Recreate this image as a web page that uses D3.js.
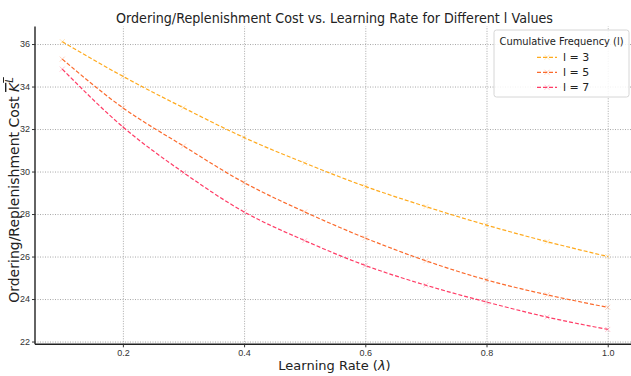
<!DOCTYPE html>
<html>
<head>
<meta charset="utf-8">
<script src="https://cdn.jsdelivr.net/npm/d3@7"></script>
<style>
  body { margin: 0; background: #fff; }
  svg { display: block; font-family: "DejaVu Sans", sans-serif; }
  .grid line { stroke: #a8a8a8; stroke-dasharray: 1 1.5; stroke-width: 1; }
  .grid path { display: none; }
  .axis text { font-size: 9px; fill: #333; }
  .axis line { stroke: #333; }
  .axis path { stroke: #222; stroke-width: 1.4; }
  .line { fill: none; stroke-width: 1.2; stroke-dasharray: 4 2; }
</style>
</head>
<body>
<div data-output></div>
<script>
// values
const lambdas = [0.1, 0.2, 0.3, 0.4, 0.5, 0.6, 0.7, 0.8, 0.9, 1.0];
const costL3 = [36.11, 34.48, 33.0, 31.6, 30.4, 29.3, 28.35, 27.48, 26.7, 26.0];
const costL5 = [35.29, 33.0, 31.2, 29.48, 28.1, 26.87, 25.8, 24.9, 24.2, 23.61];
const costL7 = [34.82, 32.1, 29.95, 28.1, 26.75, 25.58, 24.65, 23.86, 23.15, 22.57];
const seriesNames = ['l = 3', 'l = 5', 'l = 7'];
const colors = ['#ffaa1d', '#fb6a2c', '#ff3c66'];
const xTicks = [0.2, 0.4, 0.6, 0.8, 1.0];
const yTicks = [22, 24, 26, 28, 30, 32, 34, 36];

const SIZE = { WIDTH: 631, HEIGHT: 376 };

const series = [costL3, costL5, costL7].map((vals, i) => ({
  name: seriesNames[i],
  color: colors[i],
  values: lambdas.map((l, j) => ({ x: l, y: vals[j] }))
}));

const x = d3.scaleLinear().domain([0.055, 1.045]).range([35, 635]);
const y = d3.scaleLinear().domain([21.87, 36.83]).range([344.3, 26.4]);

const svg = d3.select('[data-output]').append('svg')
  .attr('width', SIZE.WIDTH)
  .attr('height', SIZE.HEIGHT);

// grid
svg.append('g')
  .attr('class', 'grid')
  .attr('transform', `translate(0, ${y.range()[0]})`)
  .call(d3.axisBottom(x).tickValues(xTicks).tickSize(-(y.range()[0] - y.range()[1])).tickFormat(''));

svg.append('g')
  .attr('class', 'grid')
  .attr('transform', `translate(${x.range()[0]}, 0)`)
  .call(d3.axisLeft(y).tickValues(yTicks).tickSize(-(x.range()[1] - x.range()[0])).tickFormat(''));

// lines
const valueLine = d3.line()
  .x(d => x(d.x))
  .y(d => y(d.y))
  .curve(d3.curveMonotoneX);

series.forEach(s => {
  svg.append('path')
    .datum(s.values)
    .attr('class', 'line')
    .attr('stroke', s.color)
    .attr('d', valueLine);

  // faint x markers
  svg.append('g').selectAll('path')
    .data(s.values)
    .join('path')
    .attr('transform', d => `translate(${x(d.x)}, ${y(d.y)})`)
    .attr('d', 'M-2.5,-2.5L2.5,2.5M-2.5,2.5L2.5,-2.5')
    .attr('stroke', s.color)
    .attr('stroke-opacity', 0.3)
    .attr('stroke-width', 1);
});

// axes
svg.append('g')
  .attr('class', 'axis')
  .attr('transform', `translate(0, ${y.range()[0]})`)
  .call(d3.axisBottom(x).tickValues(xTicks).tickSize(3).tickPadding(2).tickFormat(d3.format('.1f')))
  .call(g => g.select('.domain').attr('d', `M${x.range()[0]},0H631`));

svg.append('g')
  .attr('class', 'axis')
  .attr('transform', `translate(${x.range()[0]}, 0)`)
  .call(d3.axisLeft(y).tickValues(yTicks).tickSize(3).tickPadding(2))
  .call(g => g.select('.domain').attr('d', `M0,${y.range()[0]}V${y.range()[1]}`));

// title
svg.append('text')
  .attr('x', 334.5)
  .attr('y', 23)
  .attr('text-anchor', 'middle')
  .attr('font-size', 14)
  .attr('fill', '#222')
  .attr('textLength', 437)
  .attr('lengthAdjust', 'spacingAndGlyphs')
  .text('Ordering/Replenishment Cost vs. Learning Rate for Different l Values');

// x label
const xl = svg.append('text')
  .attr('x', 334.5)
  .attr('y', 370)
  .attr('text-anchor', 'middle')
  .attr('font-size', 13)
  .attr('fill', '#222');
xl.append('tspan').text('Learning Rate (');
xl.append('tspan').attr('font-style', 'italic').text('λ');
xl.append('tspan').text(')');

// y label
const yl = svg.append('text')
  .attr('transform', 'translate(19, 190) rotate(-90)')
  .attr('text-anchor', 'middle')
  .attr('font-size', 14)
  .attr('fill', '#222');
yl.append('tspan').text('Ordering/Replenishment Cost ');
const kl = yl.append('tspan').style('text-decoration', 'overline');
kl.append('tspan').attr('font-style', 'italic').text('K');
kl.append('tspan').attr('font-style', 'italic').attr('font-size', 10).attr('dy', -6).text('L');

// legend
const legend = svg.append('g').attr('transform', 'translate(494, 30)');
legend.append('rect')
  .attr('width', 135)
  .attr('height', 67)
  .attr('rx', 2.5)
  .attr('fill', '#fff')
  .attr('fill-opacity', 0.85)
  .attr('stroke', '#ccc')
  .attr('stroke-width', 0.8);
legend.append('text')
  .attr('x', 67.5)
  .attr('y', 15)
  .attr('text-anchor', 'middle')
  .attr('font-size', 10.5)
  .attr('fill', '#222')
  .attr('textLength', 124)
  .attr('lengthAdjust', 'spacingAndGlyphs')
  .text('Cumulative Frequency (l)');

series.forEach((s, i) => {
  const row = legend.append('g').attr('transform', `translate(0, ${27.3 + i * 15})`);
  row.append('line')
    .attr('x1', 43).attr('x2', 63)
    .attr('stroke', s.color)
    .attr('stroke-width', 1.2)
    .attr('stroke-dasharray', '4 2');
  row.append('path')
    .attr('transform', 'translate(53, 0)')
    .attr('d', 'M-2.5,-2.5L2.5,2.5M-2.5,2.5L2.5,-2.5')
    .attr('stroke', s.color)
    .attr('stroke-opacity', 0.3);
  row.append('text')
    .attr('x', 69)
    .attr('y', 4)
    .attr('font-size', 11)
    .attr('fill', '#222')
    .text(s.name);
});
</script>
</body>
</html>
